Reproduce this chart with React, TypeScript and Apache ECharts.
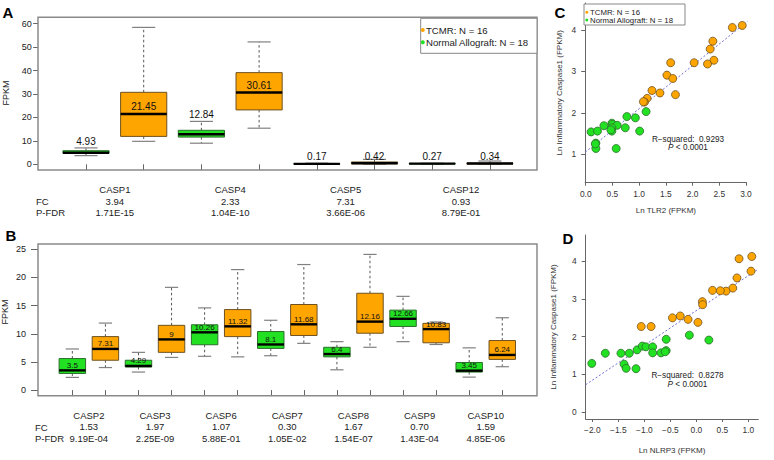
import React, { useEffect, useRef } from "react";
import * as echarts from "echarts";

const FONT = "'Liberation Sans', Arial, Helvetica, sans-serif";
const ORANGE = "#FFA500";
const ORANGE_BORDER = "#6e5220";
const GREEN = "#22E022";
const GREEN_BORDER = "#2c6e2c";

// ---------- Panel A ----------
const casesA = ["CASP1", "CASP4", "CASP5", "CASP12"];
const fcA = ["3.94", "2.33", "7.31", "0.93"];
const fdrA = ["1.71E-15", "1.04E-10", "3.66E-06", "8.79E-01"];
// [min, q1, median, q3, max]
const normalA = [
  [3.7, 4.7, 4.93, 5.8, 7.0],
  [9.0, 11.6, 12.84, 14.5, 18.3],
  [0.05, 0.1, 0.17, 0.3, 0.5],
  [0.1, 0.2, 0.27, 0.35, 0.45],
];
const tcmrA = [
  [9.8, 11.9, 21.45, 30.7, 58.4],
  [15.4, 23.2, 30.61, 39.1, 52.2],
  [0.1, 0.25, 0.42, 1.0, 2.1],
  [0.1, 0.2, 0.34, 0.5, 1.4],
];
const yTicksA = [0, 10, 20, 30, 40, 50, 60];

// ---------- Panel B ----------
const casesB = ["CASP2", "CASP3", "CASP6", "CASP7", "CASP8", "CASP9", "CASP10"];
const fcB = ["1.53", "1.97", "1.07", "0.30", "1.67", "0.70", "1.59"];
const fdrB = ["9.19E-04", "2.25E-09", "5.88E-01", "1.05E-02", "1.54E-07", "1.43E-04", "4.85E-06"];
const normalB = [
  [2.25, 2.95, 3.5, 5.6, 7.3],
  [3.2, 4.1, 4.29, 5.3, 6.7],
  [6.0, 8.05, 10.26, 11.6, 14.6],
  [6.1, 7.4, 8.1, 10.4, 12.4],
  [3.6, 5.9, 6.4, 7.6, 8.6],
  [8.6, 11.3, 12.66, 14.2, 16.65],
  [2.3, 3.2, 3.45, 4.9, 7.5],
];
const tcmrB = [
  [4.0, 5.3, 7.31, 9.5, 11.9],
  [5.8, 6.7, 9, 11.5, 18.25],
  [5.9, 9.5, 11.32, 14.3, 21.4],
  [8.3, 9.7, 11.68, 15.2, 22.3],
  [7.6, 10.1, 12.16, 17.2, 24.1],
  [8.1, 8.4, 10.83, 11.85, 12.1],
  [4.15, 5.45, 6.24, 8.8, 12.85],
];
const yTicksB = [0, 5, 10, 15, 20, 25];
const rowLabels = ["FC", "P-FDR"];
const boxYName = "FPKM";

// ---------- Panel C ----------
const tcmrC = [
  [2.745, 4.06], [2.93, 4.11], [2.38, 3.73], [2.33, 3.54], [2.4, 3.27], [2.28, 3.18],
  [2.03, 3.21], [1.59, 3.21], [1.52, 2.91], [1.63, 2.83], [1.68, 2.44], [1.39, 2.48],
  [1.24, 2.54], [1.15, 2.35], [1.1, 2.26], [1.08, 2.27],
];
const normalC = [
  [0.1, 1.54], [0.22, 1.56], [0.34, 1.69], [0.19, 1.27], [0.19, 1.14], [0.49, 1.75],
  [0.5, 1.72], [0.59, 1.7], [0.49, 1.64], [0.49, 1.56], [0.57, 1.14], [0.74, 1.64],
  [0.77, 1.91], [0.93, 1.88], [1.01, 1.56], [1.13, 2.03], [0.47, 1.59], [0.18, 1.25],
];
const fitC = { intercept: 1.06, slope: 1.04 };
const xTicksC = [0, 0.5, 1, 1.5, 2, 2.5, 3];
const yTicksC = [1, 2, 3, 4];

// ---------- Panel D ----------
const tcmrD = [
  [1.065, 4.13], [0.82, 4.07], [1.05, 3.74], [0.78, 3.56], [0.7, 3.29], [0.57, 3.21],
  [0.46, 3.22], [0.31, 3.23], [0.115, 2.93], [0.12, 2.85], [0.03, 2.38], [-0.16, 2.46],
  [-0.31, 2.55], [-0.46, 2.5], [-0.87, 2.27], [-1.06, 2.27],
];
const normalD = [
  [-2.01, 1.29], [-1.75, 1.56], [-1.45, 1.56], [-1.29, 1.56], [-1.39, 1.27], [-1.35, 1.16],
  [-1.16, 1.15], [-1.14, 1.65], [-1.04, 1.75], [-0.97, 1.73], [-0.84, 1.73], [-0.84, 1.57],
  [-0.68, 1.57], [-0.58, 1.63], [-0.58, 1.93], [-0.135, 2.04], [0.24, 1.91], [-0.6, 1.6],
];
const fitD = { intercept: 2.695, slope: 0.926 };
const xTicksD = [-2, -1.5, -1, -0.5, 0, 0.5, 1];
const yTicksD = [0, 1, 2, 3, 4];

const legendNames = ["TCMR: N = 16", "Normal Allograft: N = 18"];
const statsC = ["R\u2212squared:  0.9293", "P < 0.0001"];
const statsD = ["R\u2212squared:  0.8278", "P < 0.0001"];

const slotsA = casesA.flatMap((c) => [c + " Normal", c + " TCMR"]);
const slotsB = casesB.flatMap((c) => [c + " Normal", c + " TCMR"]);
const toBoxData = (arr: number[][], off: number) => arr.map((b, i) => [2 * i + off, ...b]);

const fmtNum = (v: number) => (v < 0 ? "\u2212" + Math.abs(v).toFixed(1) : v.toFixed(1));

function makeBox(fill: string, border: string, panel: "A" | "B", isNormal: boolean) {
  return (params: any, api: any) => {
    const x = api.value(0);
    const mn = api.value(1), q1 = api.value(2), md = api.value(3), q3 = api.value(4), mx = api.value(5);
    const w = api.size([1, 0])[0] * 0.8;
    const pMin = api.coord([x, mn]);
    const pQ1 = api.coord([x, q1]);
    const pMd = api.coord([x, md]);
    const pQ3 = api.coord([x, q3]);
    const pMx = api.coord([x, mx]);
    const cx = pMd[0];
    let ly: number;
    if (panel === "A") {
      ly = api.coord([x, isNormal ? mx + 2.8 : md + 3])[1];
    } else {
      ly = pMd[1] - 5;
    }
    const dash = { stroke: "#555", lineWidth: 1, lineDash: [2.5, 2.5] };
    const cap = { stroke: "#808080", lineWidth: 1.2 };
    return {
      type: "group",
      children: [
        { type: "line", shape: { x1: cx, y1: pQ3[1], x2: cx, y2: pMx[1] }, style: dash },
        { type: "line", shape: { x1: cx, y1: pQ1[1], x2: cx, y2: pMin[1] }, style: dash },
        { type: "line", shape: { x1: cx - w / 4, y1: pMx[1], x2: cx + w / 4, y2: pMx[1] }, style: cap },
        { type: "line", shape: { x1: cx - w / 4, y1: pMin[1], x2: cx + w / 4, y2: pMin[1] }, style: cap },
        {
          type: "rect",
          shape: { x: cx - w / 2, y: pQ3[1], width: w, height: Math.max(pQ1[1] - pQ3[1], 0.5) },
          style: { fill, stroke: border, lineWidth: 1 },
        },
        { type: "line", shape: { x1: cx - w / 2, y1: pMd[1], x2: cx + w / 2, y2: pMd[1] }, style: { stroke: "#000", lineWidth: 2.4 } },
        {
          type: "text",
          x: cx,
          y: ly,
          style: {
            text: String(md),
            fill: "#111",
            fontSize: panel === "A" ? 10 : 8,
            fontFamily: FONT,
            align: "center",
            verticalAlign: "middle",
          },
        },
      ],
    };
  };
}

const boxSeries = (name: string, data: number[][], xi: number, yi: number, render: any) => ({
  type: "custom",
  name,
  xAxisIndex: xi,
  yAxisIndex: yi,
  data,
  encode: { x: 0, y: [1, 2, 3, 4, 5] },
  renderItem: render,
  z: 3,
});

const slotAxis = (grid: number, data: string[]) => ({
  type: "category",
  gridIndex: grid,
  data,
  boundaryGap: true,
  axisLine: { show: false },
  axisTick: { show: true, alignWithLabel: true, interval: 0, length: 6, lineStyle: { color: "#666" } },
  axisLabel: { show: false, interval: 0 },
  splitLine: { show: false },
});

const labelAxis = (grid: number, data: string[], fc: string[], fdr: string[]) => ({
  type: "category",
  gridIndex: grid,
  data,
  position: "bottom",
  boundaryGap: true,
  axisLine: { show: false },
  axisTick: { show: false },
  axisLabel: {
    interval: 0,
    margin: 14.4,
    fontSize: 9.5,
    lineHeight: 11.2,
    color: "#222",
    fontFamily: FONT,
    formatter: (v: string, i: number) => `${v}\n${fc[i]}\n${fdr[i]}`,
  },
  splitLine: { show: false },
});

const boxYAxis = (grid: number, min: number, max: number, ticks: number[], offset: number, tickLen: number, margin: number) => ({
  type: "value",
  gridIndex: grid,
  min,
  max,
  offset,
  axisLine: { show: false },
  axisTick: { show: true, customValues: ticks, length: tickLen, lineStyle: { color: "#666" } },
  axisLabel: { customValues: ticks, margin, fontSize: 9, color: "#222", fontFamily: FONT },
  splitLine: { show: false },
});

const scatterXAxis = (grid: number, min: number, max: number, ticks: number[], name: string, nameGap: number) => ({
  type: "value",
  gridIndex: grid,
  min,
  max,
  name,
  nameLocation: "middle",
  nameGap,
  nameTextStyle: { fontSize: 8, color: "#333", fontFamily: FONT },
  axisLine: { show: true, onZero: false, lineStyle: { color: "#666", width: 1 } },
  axisTick: { show: true, customValues: ticks, length: 3, lineStyle: { color: "#666" } },
  axisLabel: { customValues: ticks, margin: 7, fontSize: 8.4, color: "#333", fontFamily: FONT, formatter: (v: number) => fmtNum(v) },
  splitLine: { show: false },
});

const scatterYAxis = (grid: number, min: number, max: number, ticks: number[], nameGap: number) => ({
  type: "value",
  gridIndex: grid,
  min,
  max,
  name: "Ln Inflammatory Caspase1 (FPKM)",
  nameLocation: "middle",
  nameGap,
  nameTextStyle: { fontSize: 8, color: "#333", fontFamily: FONT },
  axisLine: { show: true, onZero: false, lineStyle: { color: "#666", width: 1 } },
  axisTick: { show: true, customValues: ticks, length: 4, lineStyle: { color: "#666" } },
  axisLabel: { customValues: ticks, margin: 9, fontSize: 8.4, color: "#333", fontFamily: FONT },
  splitLine: { show: false },
});

const scatterSeries = (name: string, data: number[][], xi: number, yi: number, color: string, border: string) => ({
  type: "scatter",
  name,
  xAxisIndex: xi,
  yAxisIndex: yi,
  data,
  symbol: "circle",
  symbolSize: 8,
  itemStyle: { color, borderColor: border, borderWidth: 0.8, opacity: 1 },
  z: 3,
});

const fitSeries = (fit: { intercept: number; slope: number }, x0: number, x1: number, xi: number, yi: number) => ({
  type: "line",
  xAxisIndex: xi,
  yAxisIndex: yi,
  data: [x0, x1].map((x) => [x, fit.intercept + fit.slope * x]),
  showSymbol: false,
  symbol: "none",
  clip: true,
  lineStyle: { color: "#7070d8", width: 1, type: [2, 2] },
  z: 2,
});

const letter = (t: string, x: number, y: number) => ({
  type: "text",
  x,
  y,
  style: { text: t, fontSize: 15, fontWeight: "bold", fill: "#000", fontFamily: FONT, align: "center", verticalAlign: "middle" },
});

const txt = (t: string, x: number, y: number, size: number, align = "left", extra: any = {}) => ({
  type: "text",
  x,
  y,
  z: 20,
  style: { text: t, fontSize: size, fill: "#222", fontFamily: FONT, align, verticalAlign: "middle", ...extra },
});

const vText = (t: string, x: number, y: number, size: number) => ({
  type: "text",
  x,
  y,
  rotation: Math.PI / 2,
  z: 20,
  style: { text: t, fontSize: size, fill: "#222", fontFamily: FONT, align: "center", verticalAlign: "middle" },
});

const legendBox = (x: number, y: number, w: number, h: number, dotX: number, textX: number, rows: number[], size: number, r: number) => [
  { type: "rect", z: 19, shape: { x, y, width: w, height: h }, style: { fill: "#fff", stroke: "#888", lineWidth: 1 } },
  { type: "circle", z: 20, shape: { cx: dotX, cy: rows[0], r }, style: { fill: ORANGE } },
  { type: "circle", z: 20, shape: { cx: dotX, cy: rows[1], r }, style: { fill: GREEN } },
  txt(legendNames[0], textX, rows[0], size),
  txt(legendNames[1], textX, rows[1], size),
];

const statText = (lines: string[], cx: number, y0: number, y1: number) => [
  txt(lines[0], cx, y0, 8.2, "center"),
  {
    type: "text",
    x: cx,
    y: y1,
    z: 20,
    style: {
      text: "{i|P} < 0.0001",
      rich: { i: { fontStyle: "italic", fontSize: 8.2, fontFamily: FONT, fill: "#222" } },
      fontSize: 8.2,
      fill: "#222",
      fontFamily: FONT,
      align: "center",
      verticalAlign: "middle",
    },
  },
];

export default function App() {
  const ref = useRef<HTMLDivElement>(null);
  useEffect(() => {
    if (!ref.current) return;
    const chart = echarts.init(ref.current, undefined, { renderer: "svg" });
    const option: any = {
      animation: false,
      backgroundColor: "#fff",
      textStyle: { fontFamily: FONT },
      grid: [
        { left: 57.15, top: 17.3, width: 461.6, height: 152.7 },
        { left: 55.8, top: 244, width: 463, height: 151.7 },
        { left: 585.2, top: 3, width: 161.3, height: 179.7 },
        { left: 585.7, top: 235, width: 172.6, height: 184 },
      ],
      xAxis: [
        slotAxis(0, slotsA),
        labelAxis(0, casesA, fcA, fdrA),
        slotAxis(1, slotsB),
        labelAxis(1, casesB, fcB, fdrB),
        scatterXAxis(2, -0.01, 3.01, xTicksC, "Ln TLR2 (FPKM)", 24),
        scatterXAxis(3, -2.127, 1.19, xTicksD, "Ln NLRP3 (FPKM)", 27),
      ],
      yAxis: [
        boxYAxis(0, -2.43, 62.7, yTicksA, 19, 5, 6.5),
        boxYAxis(1, -1.0, 25.95, yTicksB, 17.8, 7, 12),
        scatterYAxis(2, 0.314, 4.652, yTicksC, 22),
        scatterYAxis(3, -0.186, 4.7, yTicksD, 28.5),
      ],
      series: [
        boxSeries("Normal Allograft", toBoxData(normalA, 0), 0, 0, makeBox(GREEN, GREEN_BORDER, "A", true)),
        boxSeries("TCMR", toBoxData(tcmrA, 1), 0, 0, makeBox(ORANGE, ORANGE_BORDER, "A", false)),
        boxSeries("Normal Allograft", toBoxData(normalB, 0), 2, 1, makeBox(GREEN, GREEN_BORDER, "B", true)),
        boxSeries("TCMR", toBoxData(tcmrB, 1), 2, 1, makeBox(ORANGE, ORANGE_BORDER, "B", false)),
        fitSeries(fitC, -0.01, 3.03, 4, 2),
        scatterSeries("Normal Allograft", normalC, 4, 2, GREEN, GREEN_BORDER),
        scatterSeries("TCMR", tcmrC, 4, 2, ORANGE, ORANGE_BORDER),
        fitSeries(fitD, -2.127, 1.19, 5, 3),
        scatterSeries("Normal Allograft", normalD, 5, 3, GREEN, GREEN_BORDER),
        scatterSeries("TCMR", tcmrD, 5, 3, ORANGE, ORANGE_BORDER),
      ],
      graphic: [
        { type: "rect", z: 1, shape: { x: 38, y: 17.3, width: 499, height: 152.7 }, style: { fill: "none", stroke: "#8a8a8a", lineWidth: 1.5 } },
        { type: "rect", z: 1, shape: { x: 38, y: 244, width: 499, height: 151.7 }, style: { fill: "none", stroke: "#8a8a8a", lineWidth: 1.5 } },
        letter("A", 8, 12.5),
        letter("B", 11, 235.5),
        letter("C", 560, 12.5),
        letter("D", 568, 238.5),
        vText(boxYName, 6, 93, 9),
        vText(boxYName, 4.5, 312, 9),
        txt(rowLabels[0], 36, 201.2, 9.5),
        txt(rowLabels[1], 36, 212.4, 9.5),
        txt(rowLabels[0], 35, 427.1, 9.5),
        txt(rowLabels[1], 35, 438.3, 9.5),
        ...legendBox(420.7, 18.3, 116.3, 35, 422.8, 426, [30, 42.3], 9.6, 2),
        ...legendBox(584, 4, 101, 21, 586.8, 590, [12.3, 20], 7.8, 1.5),
        ...statText(statsC, 688, 139.3, 147.5),
        ...statText(statsD, 687.5, 375.3, 384.3),
      ],
    };
    chart.setOption(option);
    return () => chart.dispose();
  }, []);
  return <div ref={ref} style={{ position: "absolute", left: 0, top: 0, width: 774, height: 460 }} />;
}
